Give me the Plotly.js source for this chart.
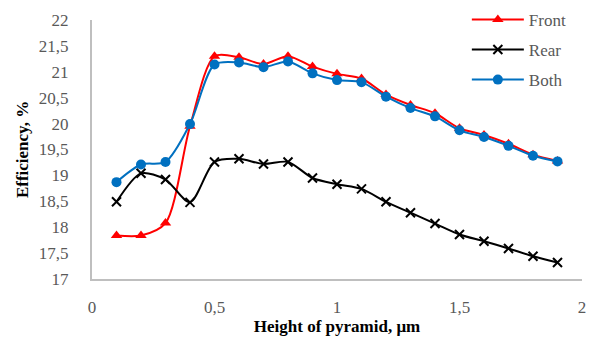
<!DOCTYPE html>
<html>
<head>
<meta charset="utf-8">
<script src="https://cdn.plot.ly/plotly-3.0.1.min.js"></script>
<style>html,body{margin:0;padding:0;background:#fff;}#chart{width:589px;height:344px;}</style>
</head>
<body>
<div id="chart"></div>
<script>
const heights = [0.1,0.2,0.3,0.4,0.5,0.6,0.7,0.8,0.9,1.0,1.1,1.2,1.3,1.4,1.5,1.6,1.7,1.8,1.9];
const front = [17.84,17.84,18.08,19.95,21.3,21.28,21.15,21.3,21.1,20.96,20.87,20.56,20.36,20.2,19.91,19.78,19.61,19.4,19.28];
const rear  = [18.49,19.04,18.92,18.48,19.26,19.32,19.22,19.26,18.95,18.83,18.74,18.49,18.28,18.07,17.86,17.73,17.59,17.44,17.32];
const both  = [18.87,19.21,19.26,19.99,21.14,21.18,21.09,21.2,20.97,20.84,20.8,20.52,20.3,20.14,19.87,19.74,19.57,19.38,19.27];
const seriesNames = ["Front","Rear","Both"];
const xTickVals = [0,0.5,1,1.5,2];
const xTickText = ["0","0,5","1","1,5","2"];
const yTickVals = [17,17.5,18,18.5,19,19.5,20,20.5,21,21.5,22];
const yTickText = ["17","17,5","18","18,5","19","19,5","20","20,5","21","21,5","22"];

const SERIF = 'Liberation Serif, Times New Roman, serif';
const traces = [
  {x: heights, y: front, name: seriesNames[0], legendgroup:'a', mode:'lines+markers',
   line:{color:'#FF0000', width:2, shape:'spline', smoothing:0.8},
   marker:{symbol:'triangle-up', size:10, color:'#FF0000'}},
  {x: heights, y: rear, name: seriesNames[1], legendgroup:'b', mode:'lines+markers',
   line:{color:'#000000', width:2, shape:'spline', smoothing:0.8},
   marker:{symbol:'x-thin-open', size:9, color:'#000000', line:{color:'#000000', width:2}}},
  {x: heights, y: both, name: seriesNames[2], legendgroup:'c', mode:'lines+markers',
   line:{color:'#0070C0', width:2, shape:'spline', smoothing:0.8},
   marker:{symbol:'circle', size:10, color:'#0070C0'}}
];

const layout = {
  width:589, height:344,
  margin:{l:92, r:7, t:20, b:65, autoexpand:false},
  paper_bgcolor:'#fff', plot_bgcolor:'#fff',
  font:{family:SERIF, size:17, color:'#595959'},
  showlegend:true,
  legend:{x:0.765, y:1.07, xanchor:'left', yanchor:'top', traceorder:'grouped', tracegroupgap:5,
    itemwidth:52, font:{family:SERIF, size:17, color:'#595959'}, bgcolor:'rgba(0,0,0,0)'},
  xaxis:{range:[0,2], tickvals:xTickVals, ticktext:xTickText, showgrid:false, zeroline:false,
    showline:true, linecolor:'#BFBFBF', linewidth:2, ticks:'', ticklabelstandoff:12,
    tickfont:{family:SERIF, size:17, color:'#595959'},
    title:{text:'<b>Height of pyramid, μm</b>', font:{family:SERIF, size:17, color:'#000'}, standoff:4}},
  yaxis:{range:[17,22], tickvals:yTickVals, ticktext:yTickText, showgrid:false, zeroline:false,
    showline:true, linecolor:'#BFBFBF', linewidth:2, ticks:'', ticklabelstandoff:18,
    tickfont:{family:SERIF, size:17, color:'#595959'},
    title:{text:'<b>Efficiency, %</b>', font:{family:SERIF, size:17, color:'#000'}, standoff:6}}
};
Plotly.newPlot('chart', traces, layout, {displayModeBar:false, staticPlot:true});
</script>
</body>
</html>
